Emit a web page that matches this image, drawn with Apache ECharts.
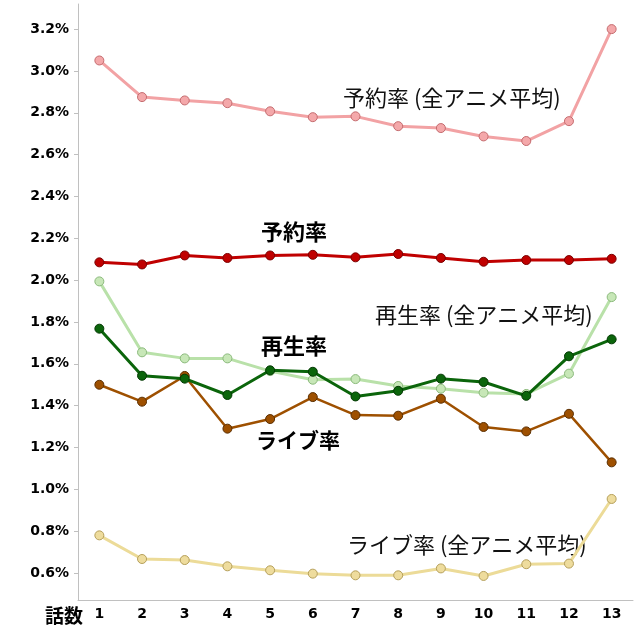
<!DOCTYPE html>
<html>
<head>
<meta charset="utf-8">
<script src="https://cdn.jsdelivr.net/npm/echarts@6/dist/echarts.min.js"></script>
<style>html,body{margin:0;padding:0;background:#fff;}#c{width:640px;height:640px;}</style>
</head>
<body>
<div id="c"></div>
<script>
const episodes = ['1','2','3','4','5','6','7','8','9','10','11','12','13'];
const yTicks = [0.6,0.8,1.0,1.2,1.4,1.6,1.8,2.0,2.2,2.4,2.6,2.8,3.0,3.2];
const reserveAvg = [3.050,2.875,2.859,2.846,2.807,2.779,2.783,2.736,2.727,2.687,2.665,2.760,3.200];
const reserve    = [2.085,2.075,2.118,2.106,2.118,2.121,2.109,2.125,2.106,2.088,2.096,2.096,2.102];
const playAvg    = [1.994,1.655,1.626,1.626,1.565,1.524,1.527,1.494,1.481,1.462,1.456,1.553,1.919];
const play       = [1.768,1.543,1.529,1.451,1.569,1.562,1.444,1.471,1.529,1.513,1.447,1.636,1.717];
const live       = [1.500,1.419,1.542,1.290,1.336,1.441,1.355,1.352,1.433,1.298,1.277,1.361,1.129];
const liveAvg    = [0.780,0.667,0.662,0.632,0.613,0.597,0.589,0.589,0.622,0.586,0.642,0.645,0.954];

const chart = echarts.init(document.getElementById('c'), null, {renderer:'canvas'});
function line(name, data, lineColor, fill, border, width, z) {
  return {
    name, type:'line', data, z,
    symbol:'circle', symbolSize:9, showSymbol:true,
    lineStyle:{color:lineColor, width:width},
    itemStyle:{color:fill, borderColor:border, borderWidth:1},
    emphasis:{disabled:true}
  };
}
const cjk = '"Noto Sans CJK JP", sans-serif';
chart.setOption({
  animation:false,
  grid:{left:78, right:7, top:4, bottom:40, containLabel:false},
  xAxis:{
    type:'category', data:episodes, boundaryGap:true,
    axisLine:{lineStyle:{color:'#c0c0c0', width:1}},
    axisTick:{alignWithLabel:true, length:4, lineStyle:{color:'#c0c0c0'}},
    axisLabel:{color:'#000', fontFamily:'DejaVu Sans', fontWeight:'bold', fontSize:14, margin:7},
    splitLine:{show:false}
  },
  yAxis:{
    type:'value', min:0.471, max:3.32,
    axisLine:{show:true, lineStyle:{color:'#c0c0c0', width:1}},
    axisTick:{show:true, length:4, lineStyle:{color:'#c0c0c0'}, customValues:yTicks},
    axisLabel:{color:'#000', fontFamily:'DejaVu Sans', fontWeight:'bold', fontSize:14, margin:9,
      customValues:yTicks, formatter:v=>v.toFixed(1)+'%'},
    splitLine:{show:false}
  },
  series:[
    line('予約率 (全アニメ平均)', reserveAvg, '#f2a2a4', '#f4a8aa', '#c46b6e', 3, 1),
    line('再生率 (全アニメ平均)', playAvg, '#b9e1a9', '#c7e7b7', '#8ab97b', 3, 2),
    line('ライブ率 (全アニメ平均)', liveAvg, '#ecdb98', '#eedc9d', '#b59f5a', 3, 3),
    line('ライブ率', live, '#9e5000', '#9e5000', '#5a2e00', 2.5, 4),
    line('再生率', play, '#0b650b', '#0b650b', '#033803', 3, 5),
    line('予約率', reserve, '#c00000', '#c00000', '#7a0000', 3, 6)
  ],
  graphic:[
    {type:'text', left:343, top:87, style:{text:'予約率 (全アニメ平均)', font:'22px '+cjk, fill:'#111'}},
    {type:'text', left:261, top:221, style:{text:'予約率', font:'bold 22px '+cjk, fill:'#000'}},
    {type:'text', left:375, top:304, style:{text:'再生率 (全アニメ平均)', font:'22px '+cjk, fill:'#111'}},
    {type:'text', left:261, top:335, style:{text:'再生率', font:'bold 22px '+cjk, fill:'#000'}},
    {type:'text', left:256, top:430, style:{text:'ライブ率', font:'bold 21px '+cjk, fill:'#000'}},
    {type:'text', left:347, top:534, style:{text:'ライブ率 (全アニメ平均)', font:'22px '+cjk, fill:'#111'}},
    {type:'text', left:45, top:606, style:{text:'話数', font:'bold 19px '+cjk, fill:'#000'}}
  ]
});
</script>
</body>
</html>
